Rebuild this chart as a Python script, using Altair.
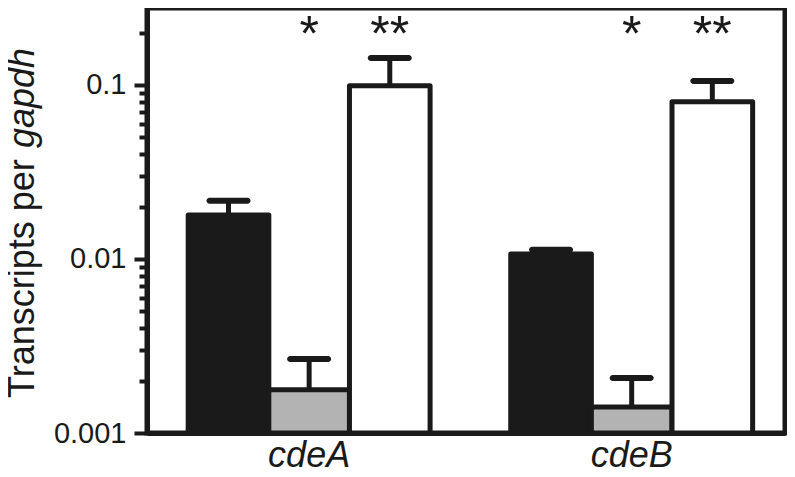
import altair as alt
import pandas as pd

# ---- data ----
genes = ["cdeA", "cdeA", "cdeA", "cdeB", "cdeB", "cdeB"]
strains = ["wild type", "mutant", "complemented", "wild type", "mutant", "complemented"]
strain_order = ["wild type", "mutant", "complemented"]
values = [0.0179, 0.00177, 0.099, 0.0107, 0.00141, 0.080]
upper = [0.0216, 0.00266, 0.143, 0.0113, 0.00207, 0.1054]
stars = ["", "*", "**", "", "*", "**"]

y_domain = [0.001, 0.277]
major_ticks = [0.001, 0.01, 0.1]
minor_ticks = [0.002, 0.003, 0.004, 0.005, 0.006, 0.007, 0.008, 0.009,
               0.02, 0.03, 0.04, 0.05, 0.06, 0.07, 0.08, 0.09, 0.2]
title_plain = "Transcripts per "
title_italic = "gapdh"

fills = ["#1a1a1a", "#b3b3b3", "#ffffff"]
INK = "#1a1a1a"
FONT = "Liberation Sans"

df = pd.DataFrame({"gene": genes, "strain": strains, "value": values,
                   "upper": upper, "star": stars,
                   "base": [y_domain[0]] * len(genes)})

yscale = alt.Scale(type="log", domain=y_domain, nice=False)
xenc = alt.X("gene:N", sort=["cdeA", "cdeB"],
             scale=alt.Scale(paddingInner=0.25, paddingOuter=0.114, align=0.56),
             axis=alt.Axis(title=None, ticks=False, tickSize=0, labelAngle=0,
                           labelFontSize=36, labelFontStyle="italic", labelFont=FONT,
                           labelColor=INK, labelPadding=5, labelBaseline="top",
                           domainWidth=5, domainColor=INK))
xoff = alt.XOffset("strain:N", sort=strain_order,
                   scale=alt.Scale(domain=strain_order, paddingInner=0, paddingOuter=0))

base = alt.Chart(df)

bars = base.mark_bar(stroke=INK, strokeWidth=5, strokeJoin="round", opacity=1).encode(
    x=xenc, xOffset=xoff,
    y=alt.Y("value:Q", scale=yscale,
            axis=alt.Axis(title=None, orient="left", values=major_ticks, format=".3~f",
                          tickSize=13, tickWidth=4, tickColor=INK,
                          labelFontSize=29, labelFont=FONT, labelColor=INK,
                          labelPadding=8, domainWidth=5, domainColor=INK, grid=False)),
    y2="base:Q",
    color=alt.Color("strain:N", scale=alt.Scale(domain=strain_order, range=fills),
                    legend=None),
)

err = base.mark_rule(color=INK, strokeWidth=5, opacity=1).encode(
    x=xenc, xOffset=xoff,
    y=alt.Y("value:Q", scale=yscale,
            axis=alt.Axis(title=None, orient="left", values=minor_ticks, labels=False,
                          tickSize=8, tickWidth=4, tickColor=INK,
                          domainWidth=5, domainColor=INK, grid=False)),
    y2="upper:Q",
)

caps = base.mark_tick(color=INK, size=44, thickness=6, cornerRadius=3,
                      orient="horizontal", opacity=1).encode(
    x=xenc, xOffset=xoff,
    y=alt.Y("upper:Q", scale=yscale, axis=None),
)

star_text = base.mark_text(font=FONT, fontSize=50, color=INK, baseline="alphabetic",
                           align="center").encode(
    x=xenc, xOffset=xoff, y=alt.value(43), text="star:N",
)

t1 = alt.Chart(pd.DataFrame({"label": [title_plain]})).mark_text(
    angle=270, align="left", baseline="alphabetic", fontSize=36, font=FONT, color=INK
).encode(text="label:N", x=alt.value(-113), y=alt.value(390))

t2 = alt.Chart(pd.DataFrame({"label": [title_italic]})).mark_text(
    angle=270, align="left", baseline="alphabetic", fontSize=36, font=FONT, color=INK,
    fontStyle="italic"
).encode(text="label:N", x=alt.value(-113), y=alt.value(140))

chart = alt.layer(bars, err, caps, star_text, t1, t2).resolve_axis(
    y="independent"
).properties(
    width=638, height=425,
    autosize=alt.AutoSizeParams(type="none"),
    padding={"left": 139, "top": 0, "right": 2, "bottom": 36},
).configure_view(stroke=INK, strokeWidth=5)

chart.save("out.html", embed_options={"renderer": "svg", "actions": False})
